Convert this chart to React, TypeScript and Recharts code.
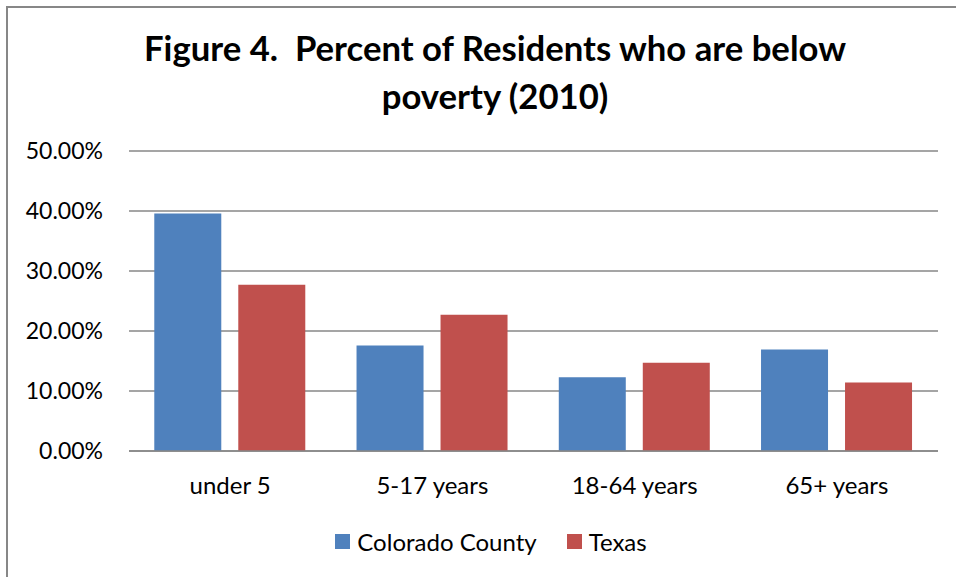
import React from 'react';
import { BarChart, Bar, XAxis, YAxis, CartesianGrid, Legend } from 'recharts';

const categories = ['under 5', '5-17 years', '18-64 years', '65+ years'];
const coloradoCounty = [39.6, 17.6, 12.3, 16.9];
const texas = [27.7, 22.7, 14.7, 11.4];
const yTicks = [0, 10, 20, 30, 40, 50];
const seriesNames = ['Colorado County', 'Texas'];
const titleLines = ['Figure 4.  Percent of Residents who are below', 'poverty (2010)'];

const COLORS = ['#4F81BD', '#C0504D'];
const FONT = 'Lato, Carlito, Calibri, sans-serif';

const data = categories.map((c, i) => ({
  category: c,
  colorado: coloradoCounty[i],
  texas: texas[i],
}));

const LegendContent = () => (
  <div
    style={{
      display: 'flex',
      justifyContent: 'center',
      alignItems: 'center',
      height: 30,
      fontFamily: FONT,
      fontSize: 24,
      color: '#000',
    }}
  >
    {seriesNames.map((n, i) => (
      <div key={n} style={{ display: 'flex', alignItems: 'center', marginRight: i === 0 ? 30 : 0 }}>
        <div style={{ width: 15, height: 15, background: COLORS[i], marginRight: 7 }} />
        <span>{n}</span>
      </div>
    ))}
  </div>
);

export default function App() {
  return (
    <div
      style={{
        position: 'absolute',
        left: 6,
        top: 6,
        width: 990,
        height: 600,
        border: '2px solid #878787',
        boxSizing: 'border-box',
        background: '#fff',
      }}
    >
      <div style={{ position: 'relative', width: 948, height: 569 }}>
        <svg
          width={948}
          height={130}
          style={{ position: 'absolute', left: 0, top: 0 }}
        >
          {titleLines.map((t, i) => (
            <text
              key={i}
              x={487}
              y={53 + i * 47.5}
              textAnchor="middle"
              fontFamily={FONT}
              fontWeight={700}
              fontSize={34.7}
              fill="#000"
              style={{ whiteSpace: 'pre' }}
            >
              {t}
            </text>
          ))}
        </svg>
        <BarChart
          width={948}
          height={569}
          data={data}
          margin={{ top: 143, right: 18, left: 0, bottom: 66 }}
          barCategoryGap="12.5%"
          barGap={17}
          style={{ fontFamily: FONT }}
        >
          <CartesianGrid vertical={false} stroke="#878787" strokeWidth={1.3} />
          <XAxis
            dataKey="category"
            height={60}
            tickLine={false}
            axisLine={{ stroke: '#878787', strokeWidth: 1.3 }}
            tickMargin={20}
            tick={{ fill: '#000', fontSize: 24, fontFamily: FONT }}
          />
          <YAxis
            width={121}
            domain={[0, 50]}
            ticks={yTicks}
            tickLine={false}
            axisLine={false}
            tickMargin={20}
            tickFormatter={(v: number) => v.toFixed(2) + '%'}
            tick={{ fill: '#000', fontSize: 23, fontFamily: FONT }}
          />
          <Legend
            layout="horizontal"
            verticalAlign="middle"
            align="center"
            content={<LegendContent />}
            wrapperStyle={{ top: 518, left: 0, width: 966, height: 30 }}
          />
          <Bar dataKey="colorado" name={seriesNames[0]} fill={COLORS[0]} isAnimationActive={false} />
          <Bar dataKey="texas" name={seriesNames[1]} fill={COLORS[1]} isAnimationActive={false} />
        </BarChart>
      </div>
    </div>
  );
}
